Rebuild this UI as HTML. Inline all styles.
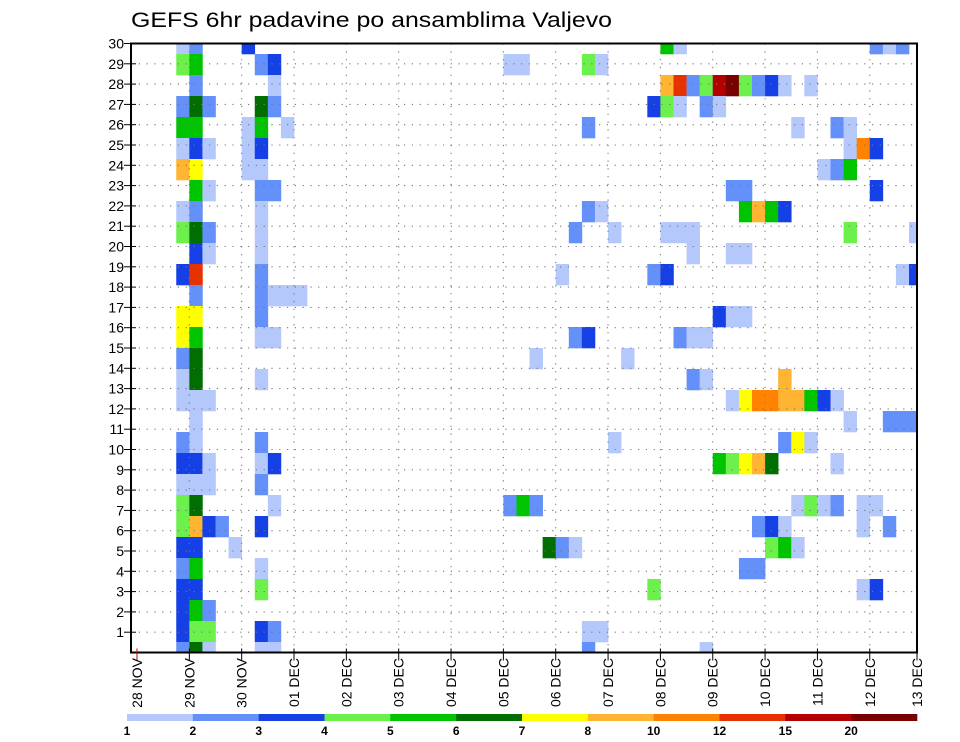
<!DOCTYPE html>
<html><head><meta charset="utf-8"><title>GEFS 6hr padavine po ansamblima Valjevo</title>
<style>
html,body{margin:0;padding:0;background:#fff;}
svg{display:block;font-family:"Liberation Sans",sans-serif;}
</style></head>
<body>
<svg id="chart" width="960" height="742" viewBox="0 0 960 742" xmlns="http://www.w3.org/2000/svg">
  <rect x="0" y="0" width="960" height="742" fill="#fff"/>
  <text x="131" y="27" font-size="21" textLength="481" lengthAdjust="spacingAndGlyphs" fill="#000">GEFS 6hr padavine po ansamblima Valjevo</text>
  <g id="cells"></g>
  <g id="grid"></g>
  <g id="axes"></g>
  <g id="legend"></g>
</svg>
<script>
// ---- data ----
const dayLabels=["28 NOV","29 NOV","30 NOV","01 DEC","02 DEC","03 DEC","04 DEC","05 DEC","06 DEC","07 DEC","08 DEC","09 DEC","10 DEC","11 DEC","12 DEC","13 DEC"];
const memberTicks=[1,2,3,4,5,6,7,8,9,10,11,12,13,14,15,16,17,18,19,20,21,22,23,24,25,26,27,28,29,30];
const levelBounds=[1,2,3,4,5,6,7,8,10,12,15,20];
const levelColors=["#b4c8fc","#6490fa","#1440e6","#6cf04c","#00c400","#006e00","#ffff00","#ffb432","#ff8200","#e63200","#b40000","#780000"];
// cells: member, 6-hour step index from 28 NOV 00Z, precipitation (mm)
const members=[
30,30,30,30,30,30,30,30,
29,29,29,29,29,29,29,29,
28,28,28,28,28,28,28,28,28,28,28,28,28,
27,27,27,27,27,27,27,27,27,27,
26,26,26,26,26,26,26,26,26,
25,25,25,25,25,25,25,25,
24,24,24,24,24,24,24,
23,23,23,23,23,23,23,
22,22,22,22,22,22,22,22,22,
21,21,21,21,21,21,21,21,21,21,21,
20,20,20,20,20,20,
19,19,19,19,19,19,19,19,
18,18,18,18,18,
17,17,17,17,17,17,
16,16,16,16,16,16,16,16,16,
15,15,15,15,
14,14,14,14,14,14,
13,13,13,13,13,13,13,13,13,13,13,13,
12,12,12,12,12,
11,11,11,11,11,11,11,
10,10,10,10,10,10,10,10,10,10,10,
9,9,9,9,
8,8,8,8,8,8,8,8,8,8,8,8,
7,7,7,7,7,7,7,7,7,7,
6,6,6,6,6,6,6,6,6,
5,5,5,5,5,
4,4,4,4,4,4,
3,3,3,
2,2,2,2,2,2,2,
1,1,1,1,1,1,1];
const steps=[
3,4,8,40,41,56,57,58,
3,4,9,10,28,29,34,35,
4,10,40,41,42,43,44,45,46,47,48,49,51,
3,4,5,9,10,39,40,41,43,44,
3,4,8,9,11,34,50,53,54,
3,4,5,8,9,54,55,56,
3,4,8,9,52,53,54,
4,5,9,10,45,46,56,
3,4,9,34,35,46,47,48,49,
3,4,5,9,33,36,40,41,42,54,59,
4,5,9,42,45,46,
3,4,9,32,39,40,58,59,
4,9,10,11,12,
3,4,9,44,45,46,
3,4,9,10,33,34,41,42,43,
3,4,30,37,
3,4,9,42,43,49,
3,4,5,45,46,47,48,49,50,51,52,53,
4,54,57,58,59,
3,4,9,36,49,50,51,
3,4,5,9,10,44,45,46,47,48,53,
3,4,5,9,
3,4,10,28,29,30,50,51,52,53,55,56,
3,4,5,6,9,47,48,49,55,57,
3,4,7,31,32,33,48,49,50,
3,4,9,46,47,
3,4,9,39,55,56,
3,4,5,
3,4,5,9,10,34,35,
3,4,5,9,10,34,43];
const values=[
1.5,2.5,3.5,5.5,1.5,2.5,1.5,2.5,
4.5,5.5,2.5,3.5,1.5,1.5,4.5,1.5,
2.5,1.5,9,13.5,2.5,4.5,17.5,25,4.5,2.5,3.5,1.5,1.5,
2.5,6.5,2.5,6.5,2.5,3.5,4.5,1.5,2.5,1.5,
5.5,5.5,1.5,5.5,1.5,2.5,1.5,2.5,1.5,
1.5,3.5,1.5,1.5,3.5,1.5,11,3.5,
9,7.5,1.5,1.5,1.5,2.5,5.5,
5.5,1.5,2.5,2.5,2.5,2.5,3.5,
1.5,2.5,1.5,2.5,1.5,5.5,9,5.5,3.5,
4.5,6.5,2.5,1.5,2.5,1.5,1.5,1.5,1.5,4.5,1.5,
3.5,1.5,1.5,1.5,1.5,1.5,
3.5,13.5,2.5,1.5,2.5,3.5,1.5,3.5,
2.5,2.5,1.5,1.5,1.5,
7.5,7.5,2.5,3.5,1.5,1.5,
7.5,5.5,1.5,1.5,2.5,3.5,2.5,1.5,1.5,
2.5,6.5,1.5,1.5,
1.5,6.5,1.5,2.5,1.5,9,
1.5,1.5,1.5,1.5,7.5,11,11,9,9,5.5,3.5,1.5,
1.5,1.5,2.5,2.5,2.5,
2.5,1.5,2.5,1.5,2.5,7.5,1.5,
3.5,3.5,1.5,1.5,3.5,5.5,4.5,7.5,9,6.5,1.5,
1.5,1.5,1.5,2.5,
4.5,6.5,1.5,2.5,5.5,2.5,1.5,4.5,1.5,2.5,1.5,1.5,
4.5,9,3.5,2.5,3.5,2.5,3.5,1.5,1.5,2.5,
3.5,3.5,1.5,6.5,2.5,1.5,4.5,5.5,1.5,
2.5,5.5,1.5,2.5,2.5,
3.5,3.5,4.5,4.5,1.5,3.5,
3.5,5.5,2.5,
3.5,4.5,4.5,3.5,2.5,1.5,1.5,
2.5,6.5,1.5,1.5,1.5,2.5,1.5];

// ---- layout / scales ----
const NS="http://www.w3.org/2000/svg";
const PL=131, PR=917, PT=43.5, PB=652.5;
const X0=137, DAYW=52.34, STEPW=DAYW/4;
function xDay(d){return X0+d*DAYW;}
function xStep(s){return X0+s*STEPW;}
function yTick(m){return PT+(30-m)*(PB-PT)/30;}
const CELLH=21, CELLTOP=33;
function yCellTop(m){return CELLTOP+(30-m)*CELLH;}
function colorFor(v){let i=0;for(let k=0;k<levelBounds.length;k++){if(v>=levelBounds[k])i=k;}return levelColors[i];}
function mk(tag,attrs,parent){const e=document.createElementNS(NS,tag);for(const k in attrs)e.setAttribute(k,attrs[k]);parent.appendChild(e);return e;}

const gCells=document.getElementById('cells');
for(let i=0;i<members.length;i++){
  let x=xStep(steps[i]), w=STEPW;
  let y=yCellTop(members[i]), h=CELLH;
  let y2=Math.min(y+h,PB); y=Math.max(y,PT); h=y2-y;
  let x2=Math.min(x+w,PR); x=Math.max(x,PL); w=x2-x;
  if(h<=0||w<=0)continue;
  const r=mk('rect',{x:x.toFixed(2),y:y.toFixed(2),width:(w+0.3).toFixed(2),height:(h+0.3).toFixed(2),fill:colorFor(values[i])},gCells);
  
  
}

const gGrid=document.getElementById('grid');
for(const m of memberTicks){
  if(m===30)continue;
  const l=mk('line',{x1:PL,x2:PR,y1:yTick(m),y2:yTick(m),stroke:'#777','stroke-width':1.1,'stroke-dasharray':'1.2 6.6'},gGrid);
  
  
}
for(let d=1;d<dayLabels.length-1;d++){
  const l=mk('line',{x1:xDay(d),x2:xDay(d),y1:PT,y2:PB,stroke:'#777','stroke-width':1.1,'stroke-dasharray':'1.2 6.6'},gGrid);
  
  
}

const gAxes=document.getElementById('axes');
const frame=mk('rect',{x:PL,y:PT,width:PR-PL,height:PB-PT,fill:'none',stroke:'#000','stroke-width':2},gAxes);


for(const m of memberTicks){
  const t=mk('line',{x1:PL-7,x2:PL+5,y1:yTick(m),y2:yTick(m),stroke:'#000','stroke-width':1},gAxes);
  
  
  const tx=mk('text',{x:124,y:yTick(m)+5,'font-size':14,'text-anchor':'end',fill:'#000'},gAxes);
  tx.textContent=String(m);
  
  
}
for(let d=0;d<dayLabels.length;d++){
  const x=Math.min(xDay(d),PR);
  const t=mk('line',{x1:x,x2:x,y1:PB-4,y2:PB+8,stroke:d===0?'#c00':'#000','stroke-width':1},gAxes);
  
  
  const tx=mk('text',{x:0,y:0,'font-size':14,'text-anchor':'end',fill:'#000',transform:'translate('+(x+5)+',658) rotate(-90)'},gAxes);
  tx.textContent=dayLabels[d];
  
  
}

const gLeg=document.getElementById('legend');
const LX=127, LW=(917-127)/levelColors.length;
for(let i=0;i<levelColors.length;i++){
  const r=mk('rect',{x:LX+i*LW,y:714,width:LW+0.3,height:7,fill:levelColors[i]},gLeg);
  
  
  const tx=mk('text',{x:LX+i*LW,y:735,'font-size':12,'font-weight':'bold','text-anchor':'middle',fill:'#000'},gLeg);
  tx.textContent=String(levelBounds[i]);
  
  
}
</script>
</body></html>
